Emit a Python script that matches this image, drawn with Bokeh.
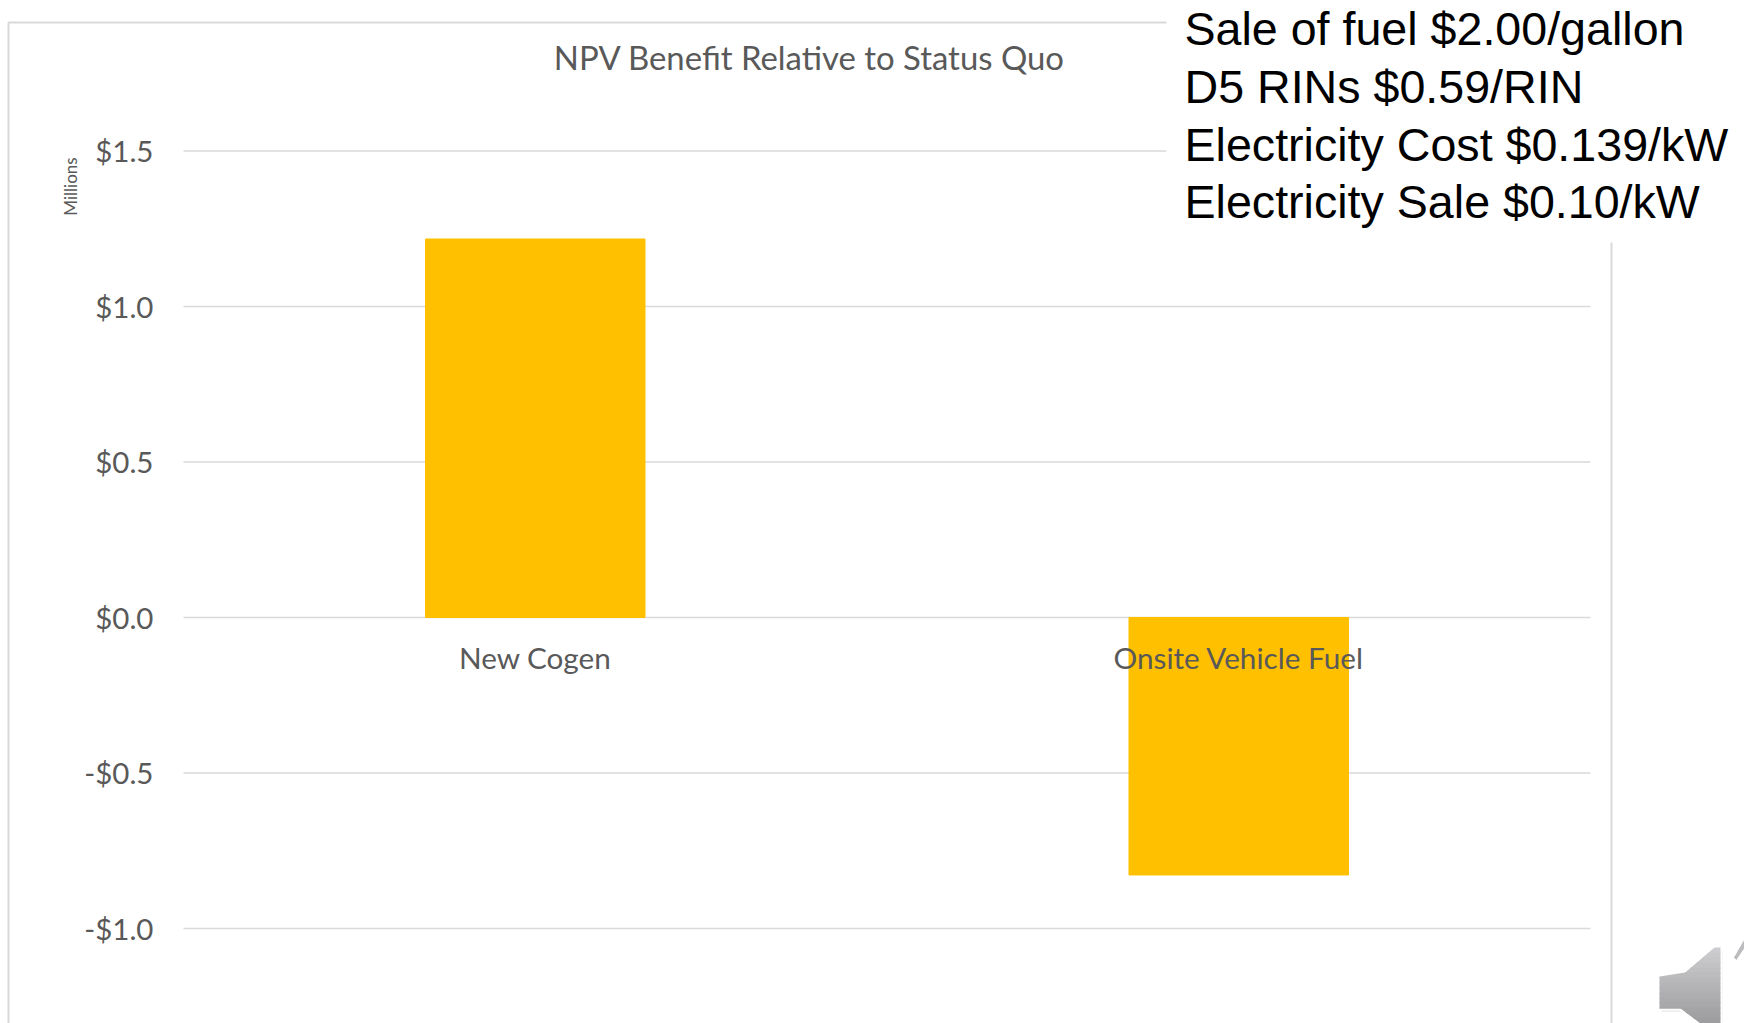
from bokeh.embed import file_html
from bokeh.models import BoxAnnotation, ColumnDataSource, FixedTicker, Label, PolyAnnotation, Range1d
from bokeh.plotting import figure
from bokeh.resources import INLINE

# Chart data (values in millions of dollars)
categories = ["New Cogen", "Onsite Vehicle Fuel"]
npv_benefit = [1.217, -0.828]
y_ticks = [-1.0, -0.5, 0.0, 0.5, 1.0, 1.5]
y_tick_labels = ["-$1.0", "-$0.5", "$0.0", "$0.5", "$1.0", "$1.5"]
chart_title = "NPV Benefit Relative to Status Quo"
y_unit = "Millions"
assumptions = [
    "Sale of fuel $2.00/gallon",
    "D5 RINs $0.59/RIN",
    "Electricity Cost $0.139/kW",
    "Electricity Sale $0.10/kW",
]

GREY_TEXT = "#595959"
GRID = "#d9d9d9"
BAR = "#ffc000"
FONT = "Lato"
W, H = 1744, 1023

# The frame fills the page so that the border, panel and icon can sit anywhere on it;
# categories are placed at x = 0, 1, ... with the plot area spanning -0.5 to 1.5.
p = figure(
    width=W, height=H,
    x_range=Range1d(-0.7601, 1.7189),
    y_range=Range1d(-1.3056, 1.9839),
    output_backend="svg", toolbar_location=None,
    min_border_left=0, min_border_right=0, min_border_top=0, min_border_bottom=0,
    outline_line_color=None, background_fill_color="white", border_fill_color="white",
)
positions = list(range(len(categories)))
p.grid.visible = False

# Gridlines stop at the edges of the plot area
p.segment(x0=[-0.5] * len(y_ticks), x1=[1.5] * len(y_ticks), y0=y_ticks, y1=y_ticks,
          line_color=GRID, line_width=1.5)

p.vbar(x="pos", top="val", bottom=0, width=0.312, color=BAR,
       source=ColumnDataSource(dict(pos=positions, val=npv_benefit)))

# Value axis
p.yaxis.fixed_location = -0.5
p.yaxis.ticker = FixedTicker(ticks=y_ticks)
p.yaxis.major_label_overrides = dict(zip(y_ticks, y_tick_labels))
p.yaxis.axis_line_color = None
p.yaxis.major_tick_line_color = None
p.yaxis.minor_tick_line_color = None
p.yaxis.major_tick_out = 0
p.yaxis.major_label_standoff = 30
p.yaxis.major_label_text_font = FONT
p.yaxis.major_label_text_font_size = "29.5px"
p.yaxis.major_label_text_color = GREY_TEXT

# Category axis sits on the zero line with its labels just under it
p.xaxis.fixed_location = 0
p.xaxis.ticker = FixedTicker(ticks=positions)
p.xaxis.major_label_overrides = dict(zip(positions, categories))
p.xaxis.axis_line_color = None
p.xaxis.major_tick_line_color = None
p.xaxis.minor_tick_line_color = None
p.xaxis.major_tick_out = 0
p.xaxis.major_label_standoff = 23
p.xaxis.major_label_text_font = FONT
p.xaxis.major_label_text_font_size = "29.7px"
p.xaxis.major_label_text_color = GREY_TEXT


def sy(y):
    """Screen-unit y for a distance measured down from the top of the page."""
    return H - y


# Chart area border
p.add_layout(BoxAnnotation(left=8, right=1611, top=sy(22), bottom=-40,
                           left_units="screen", right_units="screen",
                           top_units="screen", bottom_units="screen",
                           fill_color=None, line_color=GRID, line_alpha=1, line_width=2))

p.add_layout(Label(x=809, y=sy(57), x_units="screen", y_units="screen", text=chart_title,
                   text_font=FONT, text_font_size="32.9px", text_color=GREY_TEXT,
                   text_align="center", text_baseline="middle"))
p.add_layout(Label(x=70, y=sy(186), x_units="screen", y_units="screen", text=y_unit, angle=90,
                   angle_units="deg", text_font=FONT, text_font_size="17px",
                   text_color=GREY_TEXT, text_align="center", text_baseline="middle"))

# Assumptions panel over the top right corner of the chart
p.add_layout(BoxAnnotation(left=1166, right=W, top=H, bottom=sy(242),
                           left_units="screen", right_units="screen",
                           top_units="screen", bottom_units="screen",
                           fill_color="white", fill_alpha=1, line_color=None))
for line, baseline in zip(assumptions, [28, 86, 144, 201]):
    p.add_layout(Label(x=1184, y=sy(baseline), x_units="screen", y_units="screen", text=line,
                       text_font="Liberation Sans", text_font_size="46.6px",
                       text_color="black", text_baseline="alphabetic"))


# Speaker icon in the bottom right corner, shaded in horizontal bands
def poly(xs, ys, **kw):
    p.add_layout(PolyAnnotation(xs=xs, ys=[sy(y) for y in ys],
                                xs_units="screen", ys_units="screen", **kw))


speaker_x = [1659, 1680, 1714, 1720, 1720, 1700, 1680, 1659]
speaker_y = [976, 976, 947, 947, 1040, 1023, 1008, 1008]
poly([x + 2 for x in speaker_x], [y + 3 for y in speaker_y],
     fill_color="#cfcfcf", fill_alpha=0.6, line_color=None)
poly(speaker_x, speaker_y, fill_color="white", fill_alpha=1, line_color="white", line_alpha=1, line_width=4)


def left_edge(y):
    if y < 976:
        return 1714 - (y - 947) * 34 / 29
    if y <= 1008:
        return 1659
    return 1680 + (y - 1008) * 20 / 15


# Each band runs a pixel past the next one's start so no seams show between them
band = 5
for i, y0 in enumerate(range(947, 1023, band)):
    y1 = y0 + band + 1
    if y0 <= 976 < y1:
        knots = [y0, 976, y1]
        xs = [left_edge(y) for y in knots]
    elif y0 <= 1008 < y1:
        knots = [y0, 1008, 1008, y1]
        xs = [1659, 1659, 1680, left_edge(y1)]
    else:
        knots = [y0, y1]
        xs = [left_edge(y) for y in knots]
    shade = 204 - int(50 * i / 15)
    poly(xs + [1720, 1720], knots + [y1, y0],
         fill_color=f"#{shade:02x}{shade:02x}{shade + 2:02x}", fill_alpha=1, line_color=None)

poly([1744, 1733, 1736, 1744], [938, 957, 960, 948],
     fill_color="#bcbcbe", fill_alpha=1, line_color="white", line_alpha=1, line_width=1)

open("out.html", "w").write(file_html(p, INLINE))
